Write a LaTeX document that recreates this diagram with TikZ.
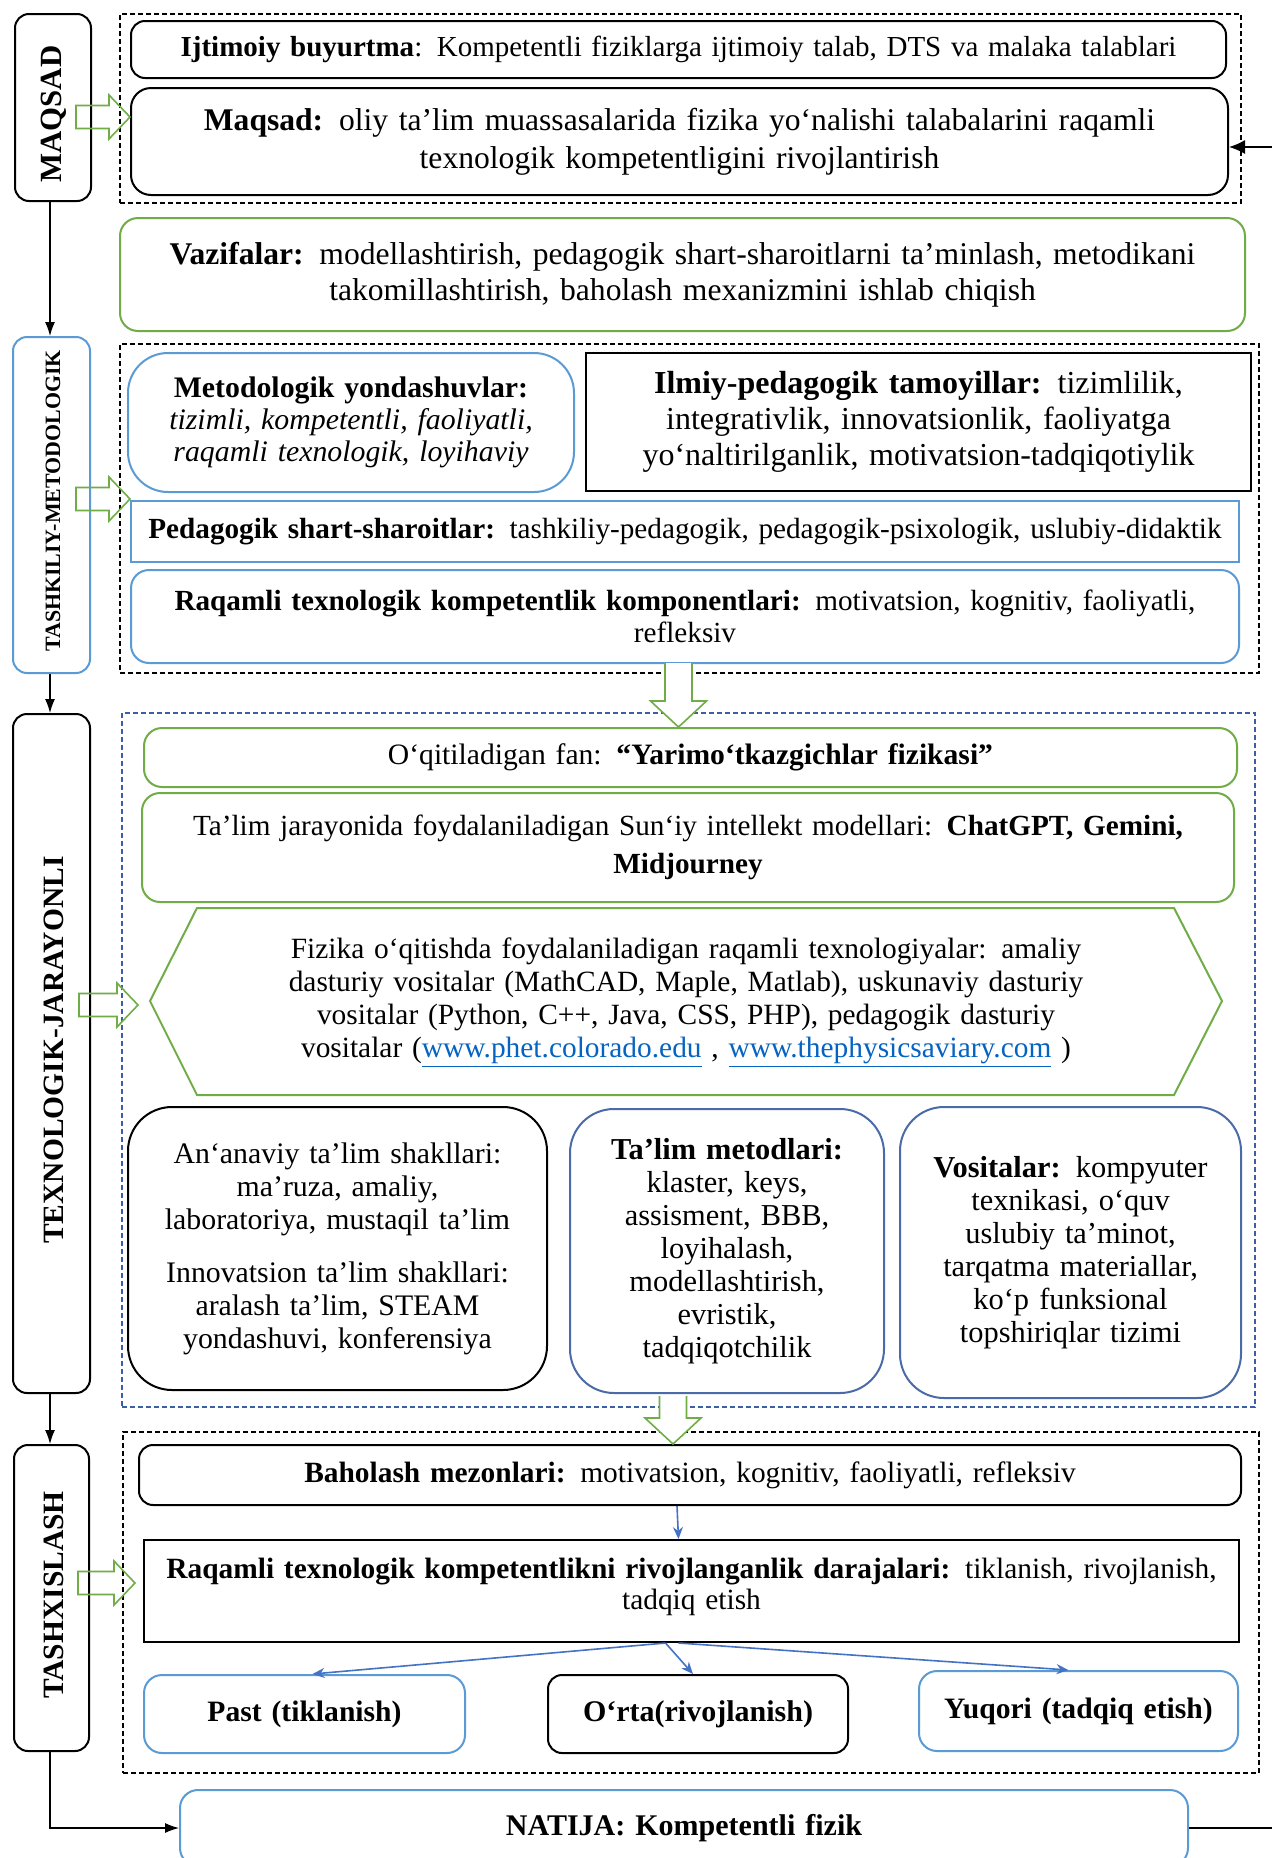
\documentclass[tikz,border=0pt]{standalone}
\usepackage{fontspec}
\setmainfont{Liberation Serif}
\usetikzlibrary{calc,arrows.meta}
\definecolor{gr}{HTML}{70AD47}
\definecolor{lb}{HTML}{5B9BD5}
\definecolor{db}{HTML}{4A6BA8}
\definecolor{dash}{HTML}{3A5FA8}
\definecolor{ab}{HTML}{4472C4}
\definecolor{lnk}{HTML}{0563C1}
\newcommand\DrawBox[7]{\node[inner sep=0pt, minimum width={(#4-#2)*0.5pt}, minimum height={(#5-#3)*0.5pt}, text width={(#4-#2)*0.5pt-10pt}, align=center, #6] (#1) at ({(#2+#4)/2},{(#3+#5)/2}) {#7};}
\newcommand\FrameBox[6]{\node[#6, inner sep=0pt, minimum width={(#4-#2)*0.5pt}, minimum height={(#5-#3)*0.5pt}] (#1) at ({(#2+#4)/2},{(#3+#5)/2}) {};}
\newcommand\lnkt[1]{\textcolor{lnk}{\underline{#1}}}
\newcommand\fs[2]{\fontsize{#1}{#2}\selectfont}
\tikzset{
  blk/.style={draw=black, line width=1pt, rounded corners=7pt},
  blksq/.style={draw=black, line width=1pt},
  grn/.style={draw=gr, line width=1pt, rounded corners=9pt},
  blu/.style={draw=lb, line width=1pt, rounded corners=9pt},
  blusq/.style={draw=lb, line width=1pt},
  side/.style={line width=1pt, rounded corners=7pt},
  frm/.style={draw=black, line width=0.6pt, dash pattern=on 2.5pt off 1.5pt},
  frmb/.style={draw=dash, line width=0.6pt, dash pattern=on 2.5pt off 1.5pt},
  sidelbl/.style={rotate=90, inner sep=0pt},
  larr/.style={draw=black, line width=0.6pt, -{Latex[length=7pt,width=5pt]}},
  fbarr/.style={draw=black, line width=0.7pt, -{Latex[length=8pt,width=7pt]}},
  barr/.style={draw=ab, line width=0.8pt, -{Stealth[length=6pt,width=5pt]}},
  hol/.style={draw=gr, line width=0.8pt},
}
\newcommand\HollowRight[2]{% tip, length (px)
  \draw[hol] ($(#1)+(-#2,-11.5)$) -- ($(#1)+(-21,-11.5)$) -- ($(#1)+(-21,-22)$) -- (#1) -- ($(#1)+(-21,22)$) -- ($(#1)+(-21,11.5)$) -- ($(#1)+(-#2,11.5)$) -- cycle;}
\newcommand\HollowDown[2]{% tip, length (px)
  \draw[hol, fill=white] ($(#1)+(-13.5,-#2)$) -- ($(#1)+(-13.5,-26)$) -- ($(#1)+(-28,-26)$) -- (#1) -- ($(#1)+(28,-26)$) -- ($(#1)+(13.5,-26)$) -- ($(#1)+(13.5,-#2)$);}
\begin{document}
\begin{tikzpicture}[x=0.5pt,y=-0.5pt]
\useasboundingbox[fill=white] (0,0) rectangle (1272,1858);

% ---------- frames ----------
\FrameBox{f1}{120}{14}{1241}{203}{frm}
\FrameBox{f2}{120}{344}{1259}{673}{frm}
\FrameBox{f3}{122}{713}{1255}{1407}{frmb}
\FrameBox{f4}{123}{1432}{1259}{1773}{frm}

% ---------- side boxes ----------
\FrameBox{sM}{15}{14}{91}{201}{side, draw=black}
\FrameBox{sT}{13}{337}{90}{673}{side, draw=lb}
\FrameBox{sX}{13}{714}{90}{1393}{side, draw=black}
\FrameBox{sD}{14}{1445}{89}{1751}{side, draw=black}
\node[sidelbl, font={\bfseries\fs{15.4}{16}}] (lM) at (54,114) {MAQSAD};
\node[sidelbl, font={\bfseries\fs{10.95}{12}}] (lT) at (53,501) {TASHKILIY-METODOLOGIK};
\node[sidelbl, font={\bfseries\fs{14.75}{16}}] (lX) at (54,1050) {TEXNOLOGIK-JARAYONLI};
\node[sidelbl, font={\bfseries\fs{14.75}{16}}] (lD) at (54,1595) {TASHXISLASH};
\coordinate (ax) at (50,0);

% ---------- block 1 ----------
\DrawBox{ijt}{131}{21}{1226}{78}{blk, font={\fs{14.5}{17}}}{\textbf{Ijtimoiy buyurtma}: Kompetentli fiziklarga ijtimoiy talab, DTS va malaka talablari}
\DrawBox{maq}{131}{88}{1228}{195}{blk, rounded corners=10pt, font={\fs{15.8}{19}}}{\textbf{Maqsad:} oliy ta’lim muassasalarida fizika yo‘nalishi talabalarini raqamli\\ texnologik kompetentligini rivojlantirish}
\DrawBox{vaz}{120}{218}{1245}{331}{grn, font={\fs{15.8}{18}}}{\textbf{Vazifalar:} modellashtirish, pedagogik shart-sharoitlarni ta’minlash, metodikani\\ takomillashtirish, baholash mexanizmini ishlab chiqish}

% ---------- block 2 ----------
\DrawBox{met}{128}{353}{574}{492}{blu, rounded corners=20pt, font={\fs{14.9}{16}}}{\textbf{Metodologik yondashuvlar:}\\ \textit{tizimli, kompetentli, faoliyatli,}\\ \textit{raqamli texnologik, loyihaviy}}
\DrawBox{ilm}{586}{353}{1251}{491}{blksq, line width=1.4pt, font={\fs{16}{18}}}{\textbf{Ilmiy-pedagogik tamoyillar:} tizimlilik,\\ integrativlik, innovatsionlik, faoliyatga\\ yo‘naltirilganlik, motivatsion-tadqiqotiylik}
\DrawBox{ped}{131}{501}{1239}{562}{blusq, font={\fs{14.6}{16}}}{\textbf{Pedagogik shart-sharoitlar:} tashkiliy-pedagogik, pedagogik-psixologik, uslubiy-didaktik}
\DrawBox{kom}{131}{570}{1239}{663}{blu, font={\fs{14.6}{16}}}{\textbf{Raqamli texnologik kompetentlik komponentlari:} motivatsion, kognitiv, faoliyatli,\\ refleksiv}

% ---------- block 3 ----------
\DrawBox{fan}{144}{728}{1237}{787}{grn, font={\fs{14.8}{17}}}{O‘qitiladigan fan: \textbf{“Yarimo‘tkazgichlar fizikasi”}}
\DrawBox{sun}{142}{793}{1234}{902}{grn, font={\fs{14.6}{19}}}{Ta’lim jarayonida foydalaniladigan Sun‘iy intellekt modellari: \textbf{ChatGPT, Gemini,}\\ \textbf{Midjourney}}
\coordinate (h1) at (150,1001);
\coordinate (h2) at (197,908);
\coordinate (h3) at (1174,908);
\coordinate (h4) at (1222,1001);
\coordinate (h5) at (1174,1095);
\coordinate (h6) at (197,1095);
\draw[draw=gr, line width=1pt] (h1) -- (h2) -- (h3) -- (h4) -- (h5) -- (h6) -- cycle;
\node[inner sep=0pt, text width=430pt, align=center, font={\fs{14.7}{16.5}}] (hex) at (686,1003) {Fizika o‘qitishda foydalaniladigan raqamli texnologiyalar: amaliy\\ dasturiy vositalar (MathCAD, Maple, Matlab), uskunaviy dasturiy\\ vositalar (Python, C++, Java, CSS, PHP), pedagogik dasturiy\\ vositalar (\lnkt{www.phet.colorado.edu} , \lnkt{www.thephysicsaviary.com} )};
\DrawBox{ana}{128}{1107}{547}{1390}{blk, rounded corners=22pt, font={\fs{14.9}{16.5}}}{An‘anaviy ta’lim shakllari:\\ ma’ruza, amaliy,\\ laboratoriya, mustaqil ta’lim\\[10pt] Innovatsion ta’lim shakllari:\\ aralash ta’lim, STEAM\\ yondashuvi, konferensiya}
\DrawBox{mtd}{570}{1109}{884}{1393}{draw=db, line width=1pt, rounded corners=22pt, font={\fs{15.2}{16.5}}}{\textbf{Ta’lim metodlari:}\\ klaster, keys,\\ assisment, BBB,\\ loyihalash,\\ modellashtirish,\\ evristik,\\ tadqiqotchilik}
\DrawBox{vos}{900}{1107}{1241}{1398}{draw=db, line width=1pt, rounded corners=22pt, font={\fs{15.2}{16.5}}}{\textbf{Vositalar:} kompyuter\\ texnikasi, o‘quv\\ uslubiy ta’minot,\\ tarqatma materiallar,\\ ko‘p funksional\\ topshiriqlar tizimi}

% ---------- block 4 ----------
\DrawBox{bah}{139}{1445}{1241}{1505}{blk, font={\fs{14.7}{16}}}{\textbf{Baholash mezonlari:} motivatsion, kognitiv, faoliyatli, refleksiv}
\DrawBox{dar}{144}{1540}{1239}{1642}{blksq, font={\fs{14.7}{15.5}}}{\textbf{Raqamli texnologik kompetentlikni rivojlanganlik darajalari:} tiklanish, rivojlanish,\\ tadqiq etish\\[-8pt]\mbox{}}
\DrawBox{pas}{144}{1675}{465}{1753}{blu, font={\fs{14.8}{16}}}{\raisebox{2.5pt}{\textbf{Past (tiklanish)}}}
\DrawBox{ort}{548}{1675}{848}{1753}{blk, font={\fs{15}{16}}}{\raisebox{2.5pt}{\textbf{O‘rta(rivojlanish)}}}
\DrawBox{yuq}{919}{1671}{1238}{1751}{blu, font={\fs{14.8}{16}}}{\raisebox{2.5pt}{\textbf{Yuqori (tadqiq etish)}}}
\DrawBox{nat}{180}{1790}{1188}{1866}{blu, font={\fs{15}{16}}}{\raisebox{1.8pt}{\textbf{NATIJA: Kompetentli fizik}}}

% ---------- connectors ----------
\draw[larr] (sM.south -| ax) -- (sT.north -| ax);
\draw[larr] (sT.south -| ax) -- (sX.north -| ax);
\draw[larr] (sX.south -| ax) -- (sD.north -| ax);
\draw[larr] (sD.south -| ax) |- (nat.west);
\draw[fbarr] (nat.east) -- ++(130,0) |- ($(maq.north east)+(0,60)$);

\draw[barr] ($(bah.south)+(-13,0)$) -- ($(dar.north)+(-13,0)$);
\draw[barr] ($(dar.south)+(-26,0)$) -- ($(pas.north)+(8,0)$);
\draw[barr] ($(dar.south)+(-26,0)$) -- ($(ort.north)+(-5,0)$);
\draw[barr] ($(dar.south)+(-13,0)$) -- ($(yuq.north)+(-10,0)$);

\HollowRight{$(maq.north west)+(0,30)$}{54}
\HollowRight{$(ped.north west)+(0,-1)$}{54}
\HollowRight{$(h1)+(-12,4)$}{59}
\HollowRight{$(dar.north west)+(-8,44)$}{57}
\HollowDown{$(fan.north)+(-12,0)$}{64}
\HollowDown{$(bah.north)+(-17,0)$}{48}
\end{tikzpicture}
\end{document}
